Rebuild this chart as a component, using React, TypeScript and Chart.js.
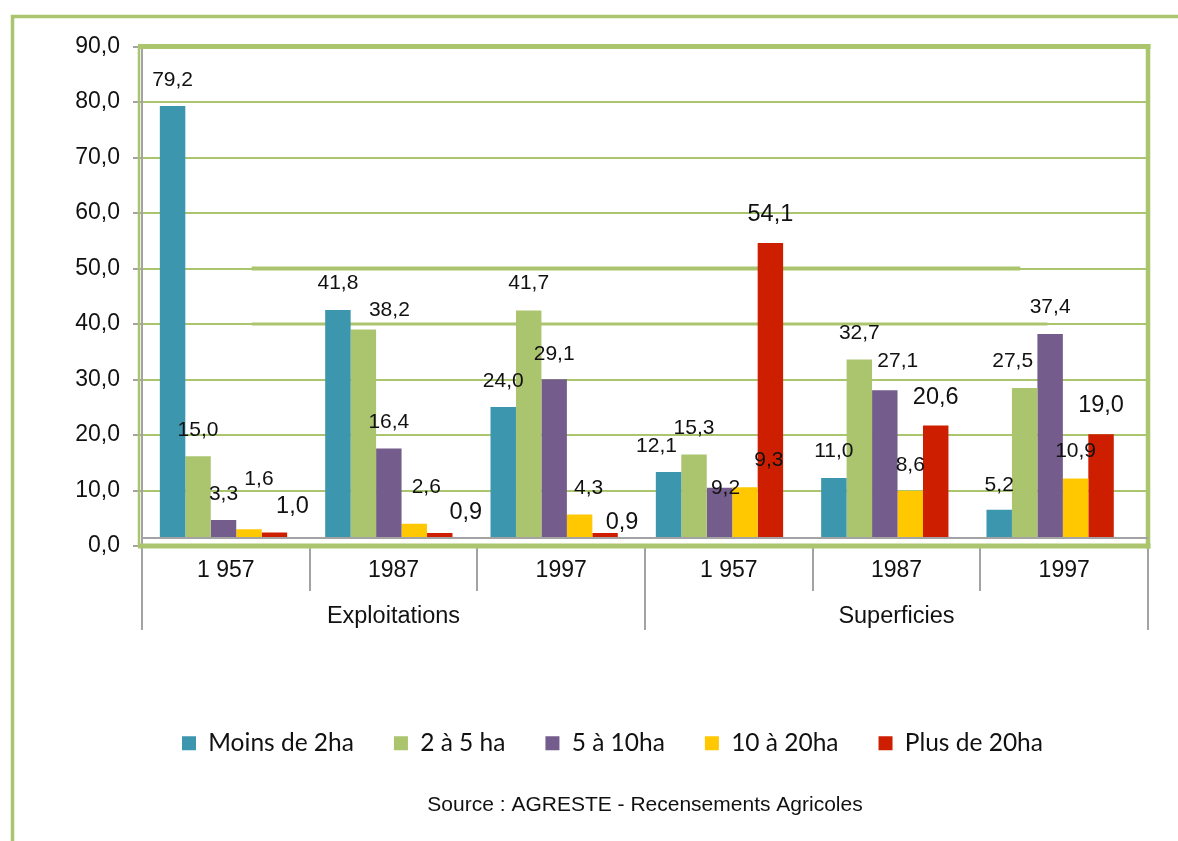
import React, { useEffect, useRef } from 'react';
import { Chart, registerables } from 'chart.js';

Chart.register(...registerables);

// ---------- data ----------
const categories = ['1 957', '1987', '1997', '1 957', '1987', '1997'];
const groups = ['Exploitations', 'Superficies'];
const seriesNames = ['Moins de 2ha', '2 à 5 ha', '5 à 10ha', '10 à 20ha', 'Plus de 20ha'];
const moinsDe2ha = [79.2, 41.8, 24.0, 12.1, 11.0, 5.2];
const de2a5ha = [15.0, 38.2, 41.7, 15.3, 32.7, 27.5];
const de5a10ha = [3.3, 16.4, 29.1, 9.2, 27.1, 37.4];
const de10a20ha = [1.6, 2.6, 4.3, 9.3, 8.6, 10.9];
const plusDe20ha = [1.0, 0.9, 0.9, 54.1, 20.6, 19.0];
const yTickMin = 0;
const yTickMax = 90;
const yTickStep = 10;
const sourceText = 'Source : AGRESTE - Recensements Agricoles';

// ---------- styles ----------
const seriesValues = [moinsDe2ha, de2a5ha, de5a10ha, de10a20ha, plusDe20ha];
const seriesColors = ['#3B96AE', '#ABC46E', '#745C8C', '#FFC800', '#CE1E00'];
const GREEN = '#ABC56F';
const AXIS_GRAY = '#A3A3A3';
const TEXT = '#111111';
const FONT = "'Liberation Sans', Arial, sans-serif";
const LEGEND_FONT = "Lato, 'Open Sans', sans-serif";
// label font size per series (the last one is drawn larger in the original)
const labelSizes = [21, 21, 21, 21, 23.5];
// manual label nudges [dx, dy] per series / category (layout only)
const labelNudges = [
  [[0, 0], [0, -1], [0, 0], [-12, 0], [0, -1], [0, 1]],
  [[0, 0], [26, 6], [0, -2], [0, -1], [0, -1], [-12, -1]],
  [[0, 0], [0, -1], [0, 0], [6, 26], [13, -3], [0, -1]],
  [[10, -25], [12, -11], [9, -1], [24, -2], [0, 0], [0, -2]],
  [[18, -1], [26, 5], [17, 15], [0, -3], [0, -3], [0, -3]],
];
// decorative heavier strokes on two gridlines of the original [value, fromFrac, toFrac, width]
const heavyGrid = [
  [50, 0.109, 0.873, 4],
  [40, 0.109, 0.9, 3],
];

const fmt = (v: number) => v.toFixed(1).replace('.', ',');

const decorPlugin = {
  id: 'decor',
  beforeDraw(chart: any) {
    const { ctx, width, height } = chart;
    ctx.save();
    ctx.fillStyle = '#ffffff';
    ctx.fillRect(0, 0, width, height);
    ctx.strokeStyle = GREEN;
    ctx.lineWidth = 3.5;
    ctx.beginPath();
    ctx.moveTo(12.5, height);
    ctx.lineTo(12.5, 16.5);
    ctx.lineTo(width, 16.5);
    ctx.stroke();
    ctx.restore();
  },
  beforeDatasetsDraw(chart: any) {
    const { ctx, chartArea } = chart;
    const { left, right, top, bottom } = chartArea;
    const y = chart.scales.y;
    ctx.save();
    ctx.strokeStyle = GREEN;
    heavyGrid.forEach(([v, f0, f1, w]) => {
      const py = y.getPixelForValue(v);
      ctx.lineWidth = w;
      ctx.beginPath();
      ctx.moveTo(left + f0 * (right - left), py);
      ctx.lineTo(left + f1 * (right - left), py);
      ctx.stroke();
    });
    ctx.lineWidth = 5;
    ctx.beginPath();
    ctx.moveTo(left - 4, top);
    ctx.lineTo(right + 2.5, top);
    ctx.moveTo(left - 4, bottom);
    ctx.lineTo(right + 2.5, bottom);
    ctx.stroke();
    ctx.lineWidth = 4.5;
    ctx.beginPath();
    ctx.moveTo(right, top - 2.5);
    ctx.lineTo(right, bottom + 2.5);
    ctx.stroke();
    ctx.lineWidth = 2.5;
    ctx.beginPath();
    ctx.moveTo(left - 3, top);
    ctx.lineTo(left - 3, bottom);
    ctx.stroke();
    ctx.restore();
  },
  afterDatasetsDraw(chart: any) {
    const { ctx, chartArea } = chart;
    const yb = chart.scales.yb;
    ctx.save();
    const base = yb.getPixelForValue(0);
    ctx.strokeStyle = AXIS_GRAY;
    ctx.lineWidth = 2;
    ctx.beginPath();
    ctx.moveTo(chartArea.left, base);
    ctx.lineTo(chartArea.right, base);
    ctx.stroke();
    ctx.fillStyle = TEXT;
    ctx.textAlign = 'center';
    ctx.textBaseline = 'middle';
    chart.data.datasets.forEach((ds: any, i: number) => {
      const meta = chart.getDatasetMeta(i);
      ctx.font = `${labelSizes[i]}px ${FONT}`;
      meta.data.forEach((bar: any, j: number) => {
        const [dx, dy] = labelNudges[i][j];
        ctx.fillText(fmt(seriesValues[i][j]), bar.x + dx, bar.y - 25.5 + dy);
      });
    });
    ctx.restore();
  },
};

export default function App() {
  const ref = useRef<HTMLCanvasElement>(null);

  useEffect(() => {
    const canvas = ref.current;
    if (!canvas) return;
    const chart = new Chart(canvas, {
      type: 'bar',
      data: {
        labels: categories,
        datasets: seriesValues.map((vals, i) => ({
          label: seriesNames[i],
          data: vals.map((v, j) => ({ x: j, y: v })),
          backgroundColor: seriesColors[i],
          borderWidth: 0,
          xAxisID: 'xb',
          yAxisID: 'yb',
          categoryPercentage: 0.77,
          barPercentage: 1,
        })),
      },
      options: {
        responsive: false,
        animation: false,
        devicePixelRatio: 1,
        events: [],
        layout: { padding: { top: 46.5, right: 30, bottom: 23.3, left: 0 } },
        scales: {
          x: {
            type: 'category',
            position: 'bottom',
            weight: 1,
            offset: true,
            grid: {
              offset: true,
              drawOnChartArea: false,
              drawTicks: true,
              tickLength: 45,
              color: AXIS_GRAY,
              lineWidth: 2,
            },
            border: { display: false },
            ticks: {
              font: { family: FONT, size: 23 },
              color: TEXT,
              padding: -34,
              maxRotation: 0,
              autoSkip: false,
            },
            afterFit: (s: any) => {
              s.height = 45;
            },
          },
          x2: {
            type: 'category',
            axis: 'x',
            position: 'bottom',
            weight: 2,
            labels: groups,
            offset: true,
            grid: {
              offset: true,
              drawOnChartArea: false,
              drawTicks: true,
              tickLength: 39,
              color: AXIS_GRAY,
              lineWidth: 2,
            },
            border: { display: false },
            ticks: {
              font: { family: FONT, size: 23.5 },
              color: TEXT,
              padding: -28,
              maxRotation: 0,
              autoSkip: false,
            },
            afterFit: (s: any) => {
              s.height = 100;
            },
          },
          xb: {
            type: 'linear',
            axis: 'x',
            display: false,
            position: 'bottom',
            weight: 0,
            offset: false,
            min: -0.493,
            max: 5.592,
            ticks: { stepSize: 1, includeBounds: false },
          },
          y: {
            type: 'linear',
            position: 'left',
            weight: 1,
            min: yTickMin,
            max: yTickMax,
            ticks: {
              stepSize: yTickStep,
              callback: (v: any) => fmt(Number(v)),
              font: { family: FONT, size: 23 },
              color: TEXT,
              padding: 13,
            },
            grid: {
              color: GREEN,
              lineWidth: 2,
              tickColor: AXIS_GRAY,
              tickLength: 9,
              tickWidth: 2,
            },
            border: { display: true, color: AXIS_GRAY, width: 2 },
            afterFit: (s: any) => {
              s.width = 142;
            },
          },
          yb: {
            type: 'linear',
            axis: 'y',
            display: false,
            position: 'left',
            weight: 0,
            min: -1.467,
            max: 90.1,
          },
        },
        plugins: {
          legend: {
            display: true,
            position: 'bottom',
            align: 'start',
            fullSize: false,
            labels: {
              font: { family: LEGEND_FONT, size: 24.5 },
              color: TEXT,
              boxWidth: 14,
              boxHeight: 14,
              padding: 40,
            },
          },
          subtitle: {
            display: true,
            text: sourceText,
            position: 'bottom',
            align: 'center',
            fullSize: false,
            font: { family: FONT, size: 21, weight: 'normal' },
            color: TEXT,
            padding: { top: 27, bottom: 0 },
          },
          title: { display: false },
          tooltip: { enabled: false },
        },
      },
      plugins: [decorPlugin],
    } as any);
    return () => chart.destroy();
  }, []);

  return (
    <div style={{ position: 'absolute', left: 0, top: 0, width: 1178, height: 841, background: '#fff' }}>
      <canvas ref={ref} width={1178} height={841} style={{ display: 'block' }} />
    </div>
  );
}
